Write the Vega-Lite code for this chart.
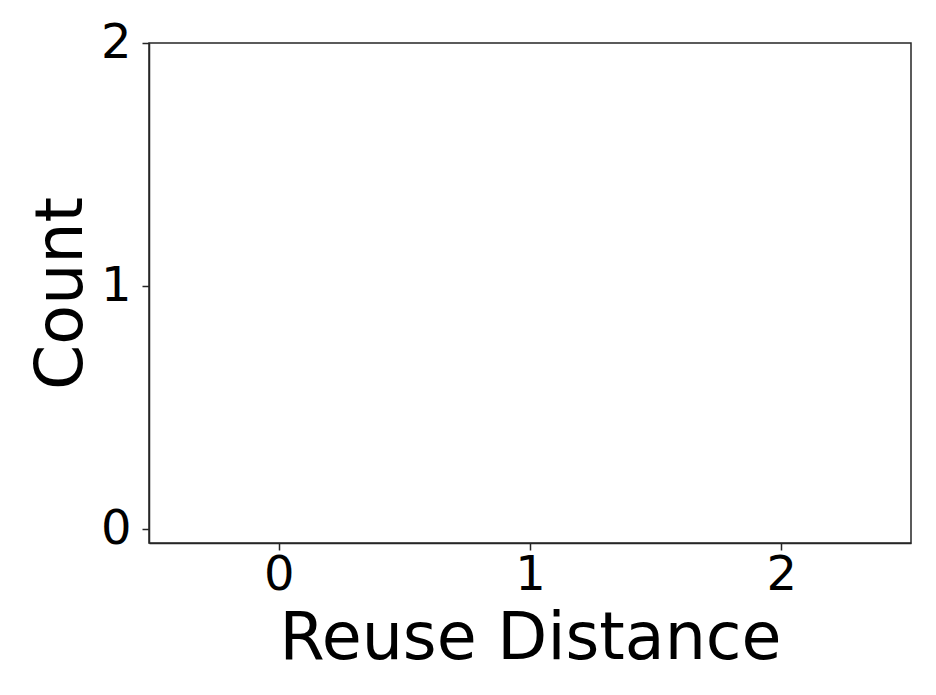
{
  "$schema": "https://vega.github.io/schema/vega-lite/v6.json",
  "autosize": {"type": "none"},
  "width": 762,
  "height": 500,
  "padding": {"left": 149, "top": 43, "right": 25, "bottom": 152},
  "background": "white",
  "data": {"values": []},
  "mark": {"type": "point"},
  "encoding": {
    "x": {
      "field": "reuse_distance",
      "type": "quantitative",
      "title": "Reuse Distance",
      "scale": {"domain": [-0.516, 2.516], "nice": false, "zero": false},
      "axis": {"values": [0, 1, 2], "format": ".0f", "labelOverlap": false}
    },
    "y": {
      "field": "frequency",
      "type": "quantitative",
      "title": "Count",
      "scale": {"domain": [-0.056, 2], "nice": false, "zero": false},
      "axis": {"values": [0, 1, 2], "format": ".0f", "labelOverlap": false}
    }
  },
  "config": {
    "view": {"stroke": "#262626", "strokeWidth": 1.5},
    "font": "DejaVu Sans",
    "axis": {
      "grid": false,
      "domainColor": "#262626",
      "domainWidth": 1.5,
      "tickColor": "#262626",
      "tickWidth": 1.5,
      "tickSize": 7,
      "labelFont": "DejaVu Sans",
      "labelFontSize": 48,
      "labelColor": "#000000",
      "titleFont": "DejaVu Sans",
      "titleFontSize": 65,
      "titleFontWeight": "normal",
      "titleColor": "#000000"
    },
    "axisX": {"labelPadding": 1, "titlePadding": 8},
    "axisY": {"labelPadding": 11, "titlePadding": 5}
  }
}
